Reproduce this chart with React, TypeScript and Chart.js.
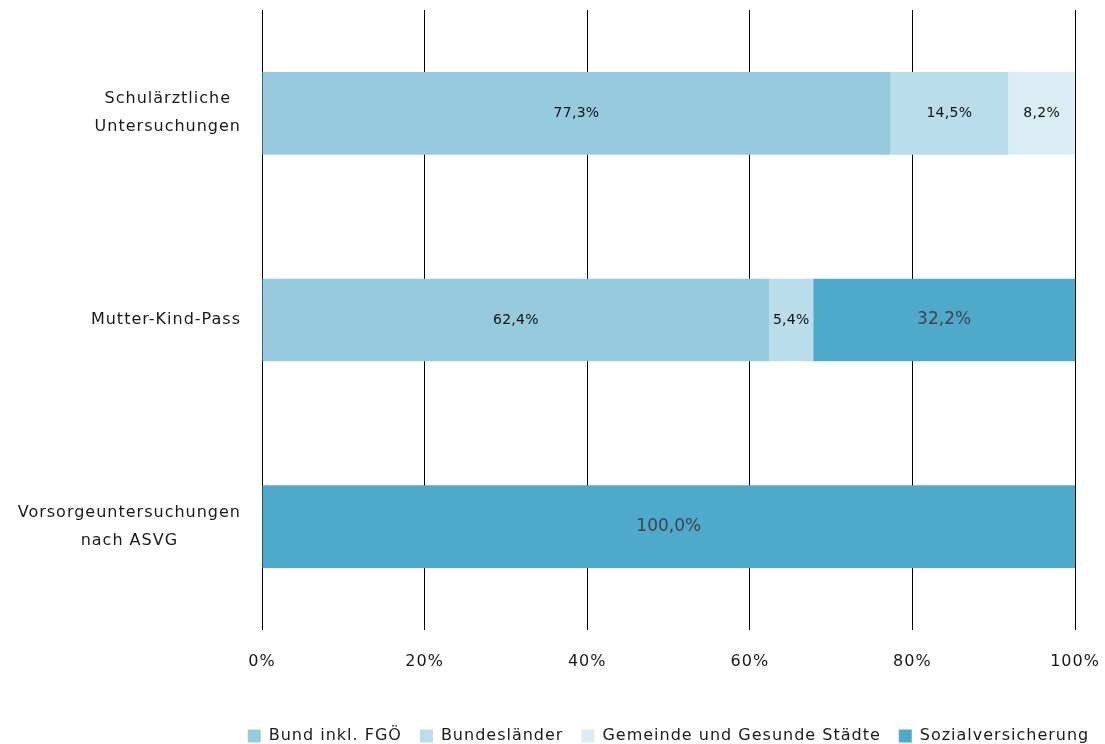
import React, { useEffect, useRef } from "react";
import { Chart, registerables } from "chart.js";

Chart.register(...registerables);

// Categories (multi-line labels) and funding shares in percent
const categories: string[][] = [
  ["Schulärztliche", "Untersuchungen"],
  ["Mutter-Kind-Pass"],
  ["Vorsorgeuntersuchungen", "nach ASVG"],
];
const seriesNames = [
  "Bund inkl. FGÖ",
  "Bundesländer",
  "Gemeinde und Gesunde Städte",
  "Sozialversicherung",
];
const bundValues = [77.3, 62.4, 0];
const laenderValues = [14.5, 5.4, 0];
const gemeindeValues = [8.2, 0, 0];
const svValues = [0, 32.2, 100.0];
const xTickValues = [0, 20, 40, 60, 80, 100];

const seriesColors = ["#96cadf", "#b9ddeb", "#daedf4", "#4fa9cb"];
const FONT = '"DejaVu Sans", sans-serif';
const SPACING = "1px";

const formatPct = (v: number) => v.toFixed(1).replace(".", ",") + "%";

// Sets letter spacing on the context before measuring and drawing
const spacingPlugin = {
  id: "spacing",
  beforeLayout(chart: any) {
    chart.ctx.letterSpacing = SPACING;
  },
  beforeDraw(chart: any) {
    chart.ctx.letterSpacing = SPACING;
  },
};

// Centers the legend under the plot area and places it at the bottom
const legendPlacePlugin = {
  id: "legendPlace",
  afterLayout(chart: any) {
    const legend = chart.legend;
    if (!legend) return;
    const area = chart.chartArea;
    const center = (area.left + area.right) / 2;
    const cur = (legend.left + legend.right) / 2;
    const dx = center - cur;
    legend.left += dx;
    legend.right += dx;
    const dy = 10;
    legend.top += dy;
    legend.bottom += dy;
  },
};

// Category labels: block right-aligned to the axis, lines centered within the block
const categoryLabelPlugin = {
  id: "categoryLabels",
  afterDraw(chart: any) {
    const yScale = chart.scales.y;
    const ctx = chart.ctx;
    ctx.save();
    ctx.letterSpacing = SPACING;
    ctx.font = `16px ${FONT}`;
    ctx.fillStyle = "#1a1a1a";
    ctx.textAlign = "center";
    ctx.textBaseline = "middle";
    const lineHeight = 28;
    categories.forEach((lines, i) => {
      const y = yScale.getPixelForTick(i);
      const maxW = Math.max(...lines.map((l) => ctx.measureText(l).width));
      const cx = chart.chartArea.left - 21 - maxW / 2;
      lines.forEach((l, j) => {
        ctx.fillText(l, cx, y + (j - (lines.length - 1) / 2) * lineHeight);
      });
    });
    ctx.restore();
  },
};

// Value labels in the middle of each segment
const valueLabelPlugin = {
  id: "valueLabels",
  afterDatasetsDraw(chart: any) {
    const ctx = chart.ctx;
    ctx.save();
    ctx.textAlign = "center";
    ctx.textBaseline = "middle";
    chart.data.datasets.forEach((ds: any, di: number) => {
      const meta = chart.getDatasetMeta(di);
      const isSv = di === 3;
      ctx.letterSpacing = isSv ? "0px" : "0.3px";
      ctx.font = isSv ? `17px ${FONT}` : `14px ${FONT}`;
      ctx.fillStyle = isSv ? "#404448" : "#111111";
      meta.data.forEach((bar: any, i: number) => {
        const v = ds.data[i];
        if (!v) return;
        const x = (bar.x + bar.base) / 2;
        ctx.fillText(formatPct(v), x, bar.y);
      });
    });
    ctx.restore();
  },
};

export default function App() {
  const canvasRef = useRef<HTMLCanvasElement | null>(null);

  useEffect(() => {
    document.body.style.margin = "0";
    const canvas = canvasRef.current;
    if (!canvas) return;
    const valueSets = [bundValues, laenderValues, gemeindeValues, svValues];
    const chart = new Chart(canvas, {
      type: "bar",
      data: {
        labels: categories.map((c) => c.join(" ")),
        datasets: seriesNames.map((name, i) => ({
          label: name,
          data: valueSets[i],
          backgroundColor: seriesColors[i],
          borderWidth: 0,
          categoryPercentage: 0.8,
          barPercentage: 0.5,
        })),
      },
      options: {
        indexAxis: "y",
        animation: false,
        responsive: true,
        maintainAspectRatio: false,
        layout: { padding: { top: 10, right: 0, left: 0, bottom: 0 } },
        scales: {
          x: {
            stacked: true,
            min: 0,
            max: 100,
            afterBuildTicks: (scale: any) => {
              scale.ticks = xTickValues.map((v) => ({ value: v }));
            },
            ticks: {
              callback: (v: any) => `${v}%`,
              font: { family: FONT, size: 16 },
              color: "#1a1a1a",
              padding: 22,
              maxRotation: 0,
            },
            grid: { color: "#000000", lineWidth: 1, drawTicks: false },
            border: { display: false },
            afterFit: (scale: any) => {
              scale.height = 70;
              scale.paddingLeft = 0;
              scale.paddingRight = 30;
            },
          },
          y: {
            stacked: true,
            ticks: { display: false },
            grid: { display: false },
            border: { display: false },
            afterFit: (scale: any) => {
              scale.width = 262;
            },
          },
        },
        plugins: {
          legend: {
            position: "bottom",
            labels: {
              boxWidth: 13,
              boxHeight: 13,
              padding: 18,
              color: "#1a1a1a",
              font: { family: FONT, size: 16 },
            },
          },
          tooltip: { enabled: false },
        },
      },
      plugins: [spacingPlugin, legendPlacePlugin, valueLabelPlugin, categoryLabelPlugin],
    });
    return () => chart.destroy();
  }, []);

  return (
    <div style={{ width: 1105, height: 744, position: "relative" }}>
      <canvas ref={canvasRef} />
    </div>
  );
}
